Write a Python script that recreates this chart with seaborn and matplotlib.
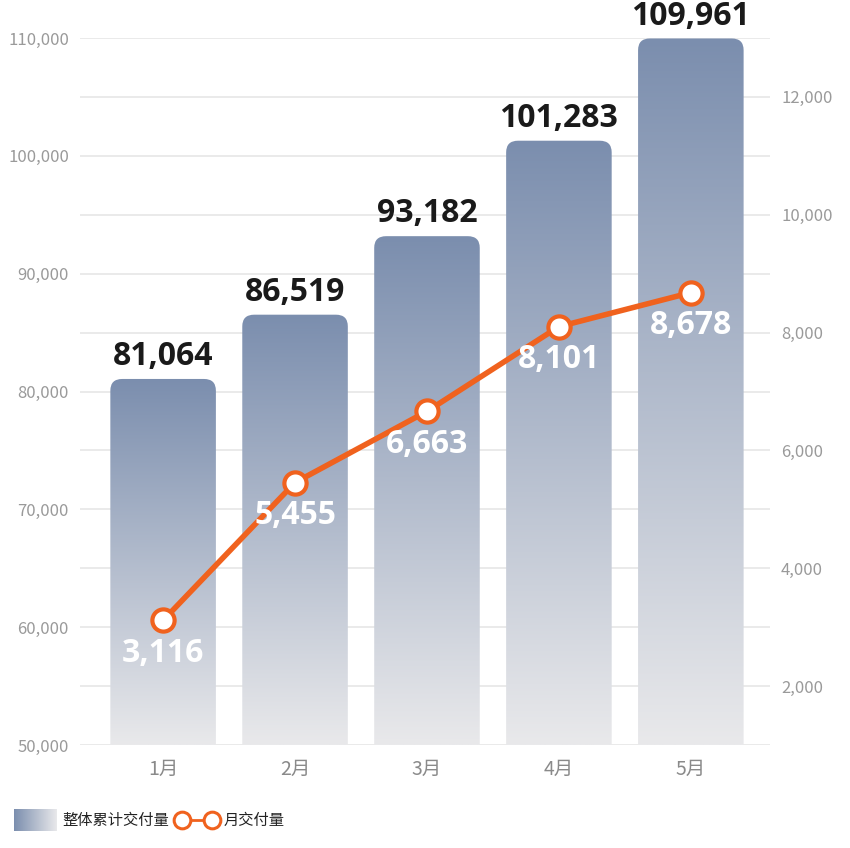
import numpy as np
import matplotlib
matplotlib.use("Agg")
import matplotlib.pyplot as plt
import seaborn as sns
import pandas as pd
from matplotlib.patches import FancyBboxPatch
from matplotlib.lines import Line2D
from matplotlib.colors import LinearSegmentedColormap

months = ["1月", "2月", "3月", "4月", "5月"]
cumulative = [81064, 86519, 93182, 101283, 109961]
monthly = [3116, 5455, 6663, 8101, 8678]
legend_labels = ["整体累计交付量", "月交付量"]

sns.set_theme(style="white")
plt.rcParams['font.family'] = ['Noto Sans CJK SC', 'DejaVu Sans']

W, H = 850, 848
fig = plt.figure(figsize=(8.5, 8.48), dpi=100)
ax = fig.add_axes([80/W, 1-745/H, 690/W, 707/H])
df = pd.DataFrame({"m": months, "c": cumulative, "v": monthly})
sns.barplot(data=df, x="m", y="c", ax=ax, width=0.8, color="#8a9bb8")
ax.set_yticks(range(50000, 110001, 10000))
ax.set_yticks(range(55000, 110001, 10000), minor=True)
ax.set_yticklabels([f"{v:,}" for v in range(50000, 110001, 10000)])
ax.grid(axis="y", which="both", color="#e6e6e6", lw=1.2)
ax.set_axisbelow(True)
for s in ax.spines.values():
    s.set_visible(False)
ax.set_xlabel(""); ax.set_ylabel("")
ax.tick_params(axis="y", which="both", colors="#9a9a9a", labelsize=12, length=0, pad=8)
ax.tick_params(axis="x", colors="#8a8a8a", labelsize=14, length=0, pad=10)

cmap = LinearSegmentedColormap.from_list("g", ["#e9e9eb", "#7b8eae"])
grad = np.linspace(0, 1, 256).reshape(-1, 1)
for p, val in zip(list(ax.patches), cumulative):
    x0, w = p.get_x(), p.get_width()
    p.set_visible(False)
    clip = FancyBboxPatch((x0, 48000), w, val - 48000,
                          boxstyle="round,pad=0,rounding_size=0.09",
                          mutation_aspect=11000, transform=ax.transData,
                          facecolor="none", edgecolor="none")
    ax.add_patch(clip)
    im = ax.imshow(grad, cmap=cmap, origin="lower", aspect="auto",
                   extent=(x0, x0 + w, 50000, val), zorder=2)
    im.set_clip_path(clip)
    ax.text(p.get_x() + w/2, val + 500, f"{val:,}", ha="center", va="bottom",
            fontsize=23, fontweight="bold", color="#1a1a1a", family=["Open Sans"],
            zorder=5, clip_on=False)
ax.set_xlim(-0.63, 4.6)
ax.set_ylim(50000, 110000)

ax2 = ax.twinx()
ax2.set_ylim(1000, 13000)
sns.lineplot(x=np.arange(5), y=monthly, ax=ax2, color="#f0621e", lw=4,
             marker="o", markersize=16, markerfacecolor="white",
             markeredgecolor="#f0621e", markeredgewidth=3, zorder=6)
for i, v in enumerate(monthly):
    ax2.text(i, v - 280, f"{v:,}", ha="center", va="top", fontsize=23,
             fontweight="bold", color="white", family=["Open Sans"], zorder=7)
ax2.set_yticks(range(2000, 12001, 2000))
ax2.set_yticklabels([f"{v:,}" for v in range(2000, 12001, 2000)])
for s in ax2.spines.values():
    s.set_visible(False)
ax2.tick_params(axis="y", colors="#9a9a9a", labelsize=12, length=0, pad=8)
ax2.grid(False)
ax2.set_xlim(-0.63, 4.6)

# legend
lax = fig.add_axes([14/W, 1-831/H, 43/W, 22/H])
lax.imshow(np.linspace(0, 1, 256).reshape(1, -1), cmap=LinearSegmentedColormap.from_list("h", ["#7b8eae", "#e9e9eb"]), aspect="auto")
lax.axis("off")
fig.text(62/W, 1-820/H, legend_labels[0], va="center", fontsize=11, color="#222")
fig.add_artist(Line2D([182/W, 212/W], [1-820/H]*2, transform=fig.transFigure,
                      color="#f0621e", lw=2, marker="o", markersize=12,
                      markerfacecolor="white", markeredgecolor="#f0621e", markeredgewidth=2.2))
fig.text(224/W, 1-820/H, legend_labels[1], va="center", fontsize=11, color="#222")

fig.savefig("out.png", dpi=100)
